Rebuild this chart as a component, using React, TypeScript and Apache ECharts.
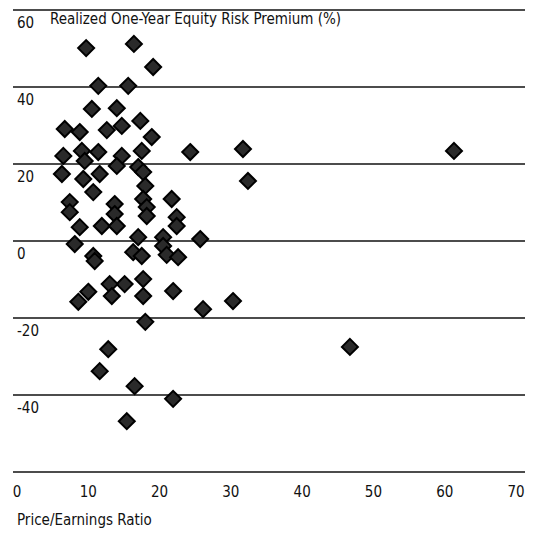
import React, { useEffect, useRef } from "react";
import * as echarts from "echarts";

const peRatio: number[] = [
  9.7, 16.4, 19.1, 11.4, 15.6, 10.5, 14.0, 17.3, 6.7, 8.8,
  12.6, 14.7, 18.9, 6.5, 9.1, 11.4, 9.5, 14.7, 14.0, 17.5,
  17.0, 6.3, 9.3, 11.6, 10.7, 17.7, 18.0, 17.7, 21.7, 7.4,
  7.4, 13.7, 13.7, 18.2, 18.2, 22.4, 22.4, 8.8, 11.9, 14.0,
  25.7, 17.0, 20.5, 8.1, 10.7, 16.3, 17.5, 20.5, 21.0, 22.6,
  10.9, 17.7, 17.7, 15.1, 13.0, 13.3, 10.0, 8.6, 21.9, 26.1,
  30.3, 18.0, 12.8, 11.6, 16.5, 21.9, 15.4, 46.7, 24.3, 31.7,
  32.4, 61.3,
];
const riskPremium: number[] = [
  50.1, 51.2, 45.2, 40.3, 40.3, 34.3, 34.5, 31.2, 29.1, 28.3,
  28.8, 29.9, 27.0, 22.1, 23.4, 23.1, 20.8, 22.1, 19.5, 23.4,
  19.2, 17.4, 16.1, 17.4, 12.7, 17.9, 14.3, 10.9, 10.9, 10.1,
  7.5, 9.6, 7.0, 8.8, 6.5, 6.2, 3.9, 3.6, 3.9, 3.9,
  0.5, 1.0, 1.0, -0.8, -3.9, -2.9, -3.9, -1.3, -3.6, -4.2,
  -5.2, -9.9, -14.3, -11.2, -11.2, -14.3, -13.2, -15.8, -13.0, -17.7,
  -15.6, -21.0, -28.1, -33.8, -37.7, -41.0, -46.8, -27.5, 23.1, 23.9,
  15.6, 23.4,
];
const xTicks = { min: 0, max: 70, interval: 10 };
const yTicks = { min: -60, max: 60, interval: 20 };
const yTitle = "Realized One-Year Equity Risk Premium (%)";
const xTitle = "Price/Earnings Ratio";

const FONT = "'DejaVu Sans Condensed', 'Liberation Sans Narrow', 'Roboto', sans-serif";

export default function App() {
  const ref = useRef<HTMLDivElement>(null);
  useEffect(() => {
    if (!ref.current) return;
    const chart = echarts.init(ref.current, undefined, { renderer: "svg" });
    const data = peRatio.map((p, i) => [p, riskPremium[i]]);
    chart.setOption({
      animation: false,
      backgroundColor: "#fff",
      grid: [
        { left: 13, right: 8, top: 10, height: 462 },
        { left: 17, width: 499, top: 10, height: 462 },
      ],
      xAxis: [
        { gridIndex: 0, type: "value", min: 0, max: 1, show: false },
        {
          gridIndex: 1,
          type: "value",
          min: xTicks.min,
          max: xTicks.max,
          interval: xTicks.interval,
          axisLine: { show: false },
          axisTick: { show: false },
          splitLine: { show: false },
          axisLabel: {
            margin: 12,
            color: "#111",
            fontFamily: FONT,
            fontSize: 15,
          },
        },
      ],
      yAxis: [
        {
          gridIndex: 0,
          type: "value",
          min: yTicks.min,
          max: yTicks.max,
          interval: yTicks.interval,
          axisLine: { show: false },
          axisTick: { show: false },
          splitLine: { show: true, lineStyle: { color: "#111", width: 1.6 } },
          axisLabel: {
            inside: true,
            margin: 4,
            verticalAlign: "top",
            align: "left",
            padding: [5, 0, 0, 0],
            color: "#111",
            fontFamily: FONT,
            fontSize: 15,
            formatter: (v: number) => (v === -60 ? "" : String(v)),
          },
        },
        {
          gridIndex: 1,
          type: "value",
          min: yTicks.min,
          max: yTicks.max,
          show: false,
        },
      ],
      graphic: [
        {
          type: "text",
          left: 50,
          top: 11,
          style: {
            text: yTitle,
            fontFamily: FONT,
            fontSize: 15,
            fill: "#111",
          },
        },
        {
          type: "text",
          left: 17,
          top: 512,
          style: {
            text: xTitle,
            fontFamily: FONT,
            fontSize: 15,
            fill: "#111",
          },
        },
      ],
      series: [
        {
          type: "scatter",
          xAxisIndex: 1,
          yAxisIndex: 1,
          data,
          symbol: "diamond",
          symbolSize: 16,
          itemStyle: { color: "#2a2a2a", borderColor: "#000", borderWidth: 2, opacity: 1 },
        },
      ],
    });
    return () => chart.dispose();
  }, []);
  return (
    <div
      ref={ref}
      style={{ position: "absolute", left: 0, top: 0, width: 533, height: 533 }}
    />
  );
}
